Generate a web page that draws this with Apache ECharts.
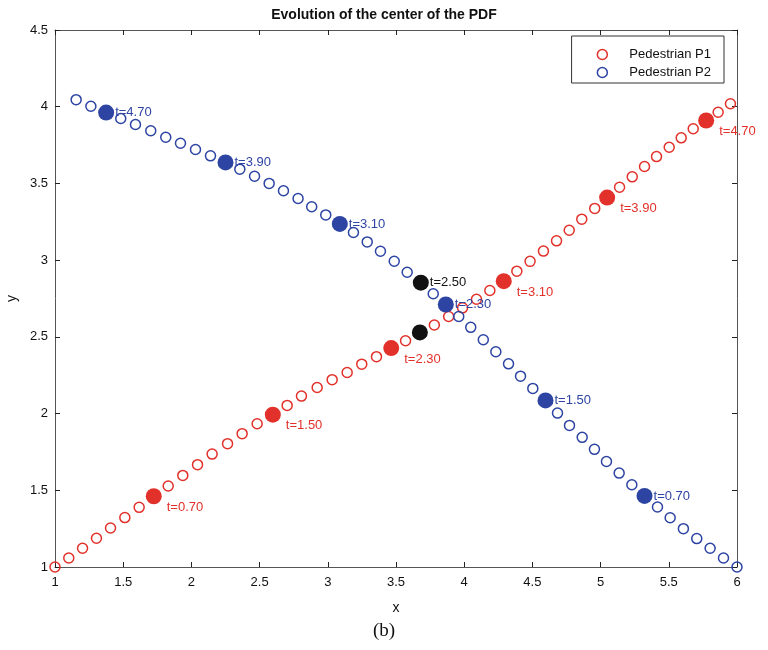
<!DOCTYPE html>
<html>
<head>
<meta charset="utf-8">
<script src="https://cdn.jsdelivr.net/npm/echarts@6/dist/echarts.min.js"></script>
<style>
  html, body { margin: 0; padding: 0; background: #fff; }
  #chart { width: 768px; height: 650px; }
</style>
</head>
<body>
<div id="chart"></div>
<script>
// Centre of the PDF for each pedestrian, one sample every 0.1 s (t = 0 .. 4.9)
const p1X = [1.000, 1.101, 1.202, 1.304, 1.407, 1.512, 1.617, 1.724, 1.830, 1.937,
             2.045, 2.152, 2.265, 2.372, 2.482, 2.597, 2.702, 2.807, 2.922, 3.032,
             3.142, 3.249, 3.357, 3.465, 3.570, 3.675, 3.781, 3.886, 3.988, 4.090,
             4.188, 4.290, 4.386, 4.483, 4.581, 4.677, 4.770, 4.862, 4.957, 5.048,
             5.139, 5.232, 5.322, 5.410, 5.503, 5.591, 5.679, 5.774, 5.862, 5.952];
const p1Y = [1.000, 1.059, 1.122, 1.187, 1.254, 1.322, 1.389, 1.461, 1.528, 1.597,
             1.667, 1.736, 1.804, 1.869, 1.934, 1.993, 2.053, 2.114, 2.170, 2.221,
             2.268, 2.322, 2.371, 2.427, 2.475, 2.529, 2.577, 2.633, 2.689, 2.745,
             2.802, 2.863, 2.928, 2.992, 3.059, 3.126, 3.195, 3.267, 3.337, 3.408,
             3.475, 3.543, 3.610, 3.675, 3.736, 3.797, 3.856, 3.910, 3.964, 4.019];
const p2X = [6.000, 5.901, 5.803, 5.705, 5.607, 5.510, 5.417, 5.322, 5.229, 5.136,
             5.043, 4.955, 4.865, 4.772, 4.684, 4.596, 4.503, 4.413, 4.325, 4.232,
             4.140, 4.048, 3.960, 3.865, 3.773, 3.682, 3.582, 3.487, 3.386, 3.289,
             3.188, 3.088, 2.985, 2.882, 2.782, 2.675, 2.570, 2.463, 2.355, 2.250,
             2.140, 2.030, 1.920, 1.812, 1.702, 1.590, 1.482, 1.375, 1.263, 1.155];
const p2Y = [1.000, 1.059, 1.122, 1.185, 1.250, 1.321, 1.391, 1.463, 1.536, 1.612,
             1.688, 1.767, 1.845, 1.923, 2.003, 2.086, 2.164, 2.244, 2.324, 2.403,
             2.481, 2.562, 2.633, 2.711, 2.781, 2.853, 2.921, 2.993, 3.058, 3.119,
             3.180, 3.236, 3.295, 3.348, 3.402, 3.452, 3.500, 3.547, 3.593, 3.637,
             3.680, 3.721, 3.762, 3.801, 3.843, 3.884, 3.923, 3.962, 4.003, 4.046];

// highlighted instants (sample index) and their labels
const markIdx = [7, 15, 23, 31, 39, 47];
const markLabels = ['t=0.70', 't=1.50', 't=2.30', 't=3.10', 't=3.90', 't=4.70'];
const crossIdx = 25;
const crossLabel = 't=2.50';

const RED = '#e2312a';
const BLUE = '#2d44a3';
const AXIS = '#555';
const FONT = '"Liberation Sans", Arial, sans-serif';

function pairs(xs, ys) {
    return xs.map((x, i) => [x, ys[i]]);
}

function marked(xs, ys, color, offset) {
    return markIdx.map((k, j) => ({
        value: [xs[k], ys[k]],
        label: { show: true, formatter: markLabels[j], position: 'right',
                 offset: offset, color: color, fontSize: 13, fontFamily: FONT }
    }));
}

const chart = echarts.init(document.getElementById('chart'));

const axisCommon = {
    min: 1,
    interval: 0.5,
    axisLine: { show: true, onZero: false, lineStyle: { color: AXIS, width: 1 } },
    axisTick: { show: true, inside: true, length: 5, lineStyle: { color: '#222' } },
    splitLine: { show: false },
    axisLabel: { color: '#111', fontSize: 13, fontFamily: FONT }
};

chart.setOption({
    animation: false,
    title: {
        text: 'Evolution of the center of the PDF',
        left: 'center',
        top: 3,
        textStyle: { fontSize: 14, fontWeight: 'bold', color: '#111', fontFamily: FONT }
    },
    grid: { left: 55, right: 31, top: 30, bottom: 83, outerBoundsMode: 'none' },
    legend: {
        orient: 'vertical',
        right: 44,
        top: 36,
        padding: [12, 13, 4, 25],
        itemGap: 5,
        itemWidth: 38,
        itemHeight: 10,
        borderColor: '#333',
        borderWidth: 1,
        backgroundColor: '#fff',
        textStyle: { fontSize: 13, color: '#111', fontFamily: FONT, padding: [0, 0, 0, 3] },
        data: [
            { name: 'Pedestrian P1', icon: 'circle',
              itemStyle: { color: 'rgba(0,0,0,0)', borderColor: RED, borderWidth: 1.5, opacity: 1 } },
            { name: 'Pedestrian P2', icon: 'circle',
              itemStyle: { color: 'rgba(0,0,0,0)', borderColor: BLUE, borderWidth: 1.5, opacity: 1 } }
        ]
    },
    xAxis: [
        Object.assign({}, axisCommon, {
            type: 'value', max: 6, position: 'bottom',
            name: 'x', nameLocation: 'middle', nameGap: 34,
            nameTextStyle: { fontSize: 14, color: '#111', fontFamily: FONT },
            axisLabel: Object.assign({}, axisCommon.axisLabel, { margin: 9 })
        }),
        Object.assign({}, axisCommon, {
            type: 'value', max: 6, position: 'top',
            axisLabel: { show: false }
        })
    ],
    yAxis: [
        Object.assign({}, axisCommon, {
            type: 'value', max: 4.5, position: 'left',
            name: 'y', nameLocation: 'middle', nameGap: 36,
            nameTextStyle: { fontSize: 14, color: '#111', fontFamily: FONT },
            axisLabel: Object.assign({}, axisCommon.axisLabel, { margin: 7 })
        }),
        Object.assign({}, axisCommon, {
            type: 'value', max: 4.5, position: 'right',
            axisLabel: { show: false }
        })
    ],
    series: [
        {
            name: 'Pedestrian P1', type: 'scatter', symbol: 'circle', symbolSize: 10,
            itemStyle: { color: 'rgba(0,0,0,0)', borderColor: RED, borderWidth: 1.5, opacity: 1 },
            data: pairs(p1X, p1Y)
        },
        {
            name: 'Pedestrian P2', type: 'scatter', symbol: 'circle', symbolSize: 10,
            itemStyle: { color: 'rgba(0,0,0,0)', borderColor: BLUE, borderWidth: 1.5, opacity: 1 },
            data: pairs(p2X, p2Y)
        },
        {
            name: 'P1 marks', type: 'scatter', symbolSize: 16,
            itemStyle: { color: RED, opacity: 1 },
            data: marked(p1X, p1Y, RED, [0, 11])
        },
        {
            name: 'P2 marks', type: 'scatter', symbolSize: 16,
            itemStyle: { color: BLUE, opacity: 1 },
            data: marked(p2X, p2Y, BLUE, [-4, 0])
        },
        {
            name: 'crossing', type: 'scatter', symbolSize: 16,
            itemStyle: { color: '#111', opacity: 1 },
            data: [
                { value: [p2X[crossIdx], p2Y[crossIdx]],
                  label: { show: true, formatter: crossLabel, position: 'right', offset: [-4, 0],
                           color: '#111', fontSize: 13, fontFamily: FONT } },
                [p1X[crossIdx], p1Y[crossIdx]]
            ]
        }
    ],
    graphic: [
        {
            type: 'text', left: 'center', top: 622,
            style: { text: '(b)', fontSize: 19, fontFamily: '"Liberation Serif", "Times New Roman", serif', fill: '#111' }
        }
    ]
});
</script>
</body>
</html>
